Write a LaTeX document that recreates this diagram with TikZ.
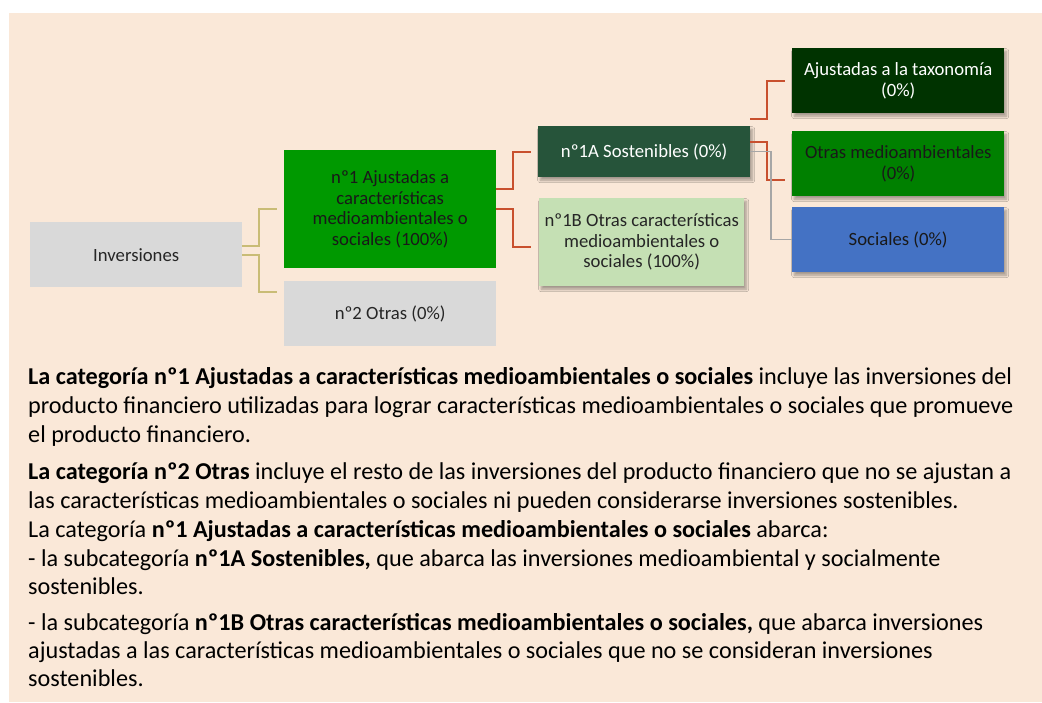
\documentclass[tikz,border=0pt]{standalone}
\usepackage{fontspec}
\setmainfont{Carlito}
\usetikzlibrary{shadows.blur}
\definecolor{bgc}{HTML}{FAE8D8}
\definecolor{grayb}{HTML}{D9D9D9}
\definecolor{greenA}{HTML}{009900}
\definecolor{darkA}{HTML}{26543A}
\definecolor{lightB}{HTML}{C5E0B4}
\definecolor{taxc}{HTML}{003300}
\definecolor{otrc}{HTML}{008000}
\definecolor{socc}{HTML}{4472C4}
\definecolor{tanl}{HTML}{C9BC76}
\definecolor{redl}{HTML}{C8502E}
\definecolor{grayl}{HTML}{A6A6A6}
\begin{document}
\begin{tikzpicture}[x=1pt,y=-1pt,
  box/.style={draw=none, anchor=north west, inner sep=0pt, align=center,
    font=\fontsize{18.7}{20.5}\selectfont},
  shd/.style={blur shadow={shadow xshift=2pt, shadow yshift=-3pt, shadow blur radius=2.5pt, shadow blur steps=6, shadow opacity=35}},
  tanline/.style={draw=tanl, line width=2pt},
  redline/.style={draw=redl, line width=2pt},
  grayline/.style={draw=grayl, line width=1.5pt},
  para/.style={anchor=base west, inner sep=0pt, font=\fontsize{24.2}{29}\selectfont}]
\fill[white] (0,0) rectangle (1042,702);
\fill[bgc] (9,13) rectangle (1042,702);
\useasboundingbox (0,0) rectangle (1042,702);

\node[box, fill=grayb, minimum width=212pt, minimum height=65pt, text=black!85] (inv) at (30,222) {Inversiones};
\node[box, fill=greenA, minimum width=212pt, minimum height=118pt, text=black!90] (n1) at (284,150) {nº1 Ajustadas a\\características\\medioambientales o\\sociales (100\%)};
\node[box, fill=grayb, minimum width=212pt, minimum height=65pt, text=black!85] (n2) at (284,281) {nº2 Otras (0\%)};
\node[box, shd, fill=darkA, minimum width=212pt, minimum height=51pt, text=white] (nA) at (538,126) {nº1A Sostenibles (0\%)};
\node[box, shd, fill=lightB, minimum width=205pt, minimum height=88pt, text=black!85] (nB) at (539,198) {nº1B Otras características\\medioambientales o\\sociales (100\%)};
\node[box, shd, fill=taxc, minimum width=212pt, minimum height=65pt, text=white] (tax) at (792,48) {Ajustadas a la taxonomía\\(0\%)};
\node[box, shd, fill=otrc, minimum width=212pt, minimum height=65pt, text=black!90] (otr) at (792,131) {Otras medioambientales\\(0\%)};
\node[box, shd, fill=socc, minimum width=212pt, minimum height=65pt, text=black!90] (soc) at (792,207) {Sociales (0\%)};

\draw[tanline] ([yshift=8.5pt]inv.east) -- ++(17,0) |- ([xshift=-7pt]n1.west);
\draw[tanline] (inv.east) -- ++(17,0) |- ([xshift=-7pt,yshift=21.5pt]n2.west);
\draw[redline] ([yshift=20pt]n1.east) -- ++(17,0) |- ([xshift=-7pt]nA.west);
\draw[redline] (n1.east) -- ++(17,0) |- ([xshift=-8pt,yshift=-4.7pt]nB.west);
\draw[redline] ([yshift=32.8pt]nA.east) -- ++(17,0) |- ([xshift=-7pt]tax.west);
\draw[redline] ([yshift=9.8pt]nA.east) -- ++(17,0) |- ([xshift=-7pt,yshift=-16.5pt]otr.west);
\draw[grayline] (nA.east) -- ++(20.7,0) |- (soc.west);

\node[para] (l1) at (28,384) {\textbf{La categoría nº1 Ajustadas a características medioambientales o sociales} incluye las inversiones del};
\node[para] (l2) at (28,413) {producto financiero utilizadas para lograr características medioambientales o sociales que promueve};
\node[para] (l3) at (28,442) {el producto financiero.};
\node[para] (l4) at (28,479) {\textbf{La categoría nº2 Otras} incluye el resto de las inversiones del producto financiero que no se ajustan a};
\node[para] (l5) at (28,508) {las características medioambientales o sociales ni pueden considerarse inversiones sostenibles.};
\node[para] (l6) at (28,537) {La categoría \textbf{nº1 Ajustadas a características medioambientales o sociales} abarca:};
\node[para] (l7) at (28,566) {- la subcategoría \textbf{nº1A Sostenibles,} que abarca las inversiones medioambiental y socialmente};
\node[para] (l8) at (28,594) {sostenibles.};
\node[para] (l9) at (28,630) {- la subcategoría \textbf{nº1B Otras características medioambientales o sociales,} que abarca inversiones};
\node[para] (l10) at (28,658) {ajustadas a las características medioambientales o sociales que no se consideran inversiones};
\node[para] (l11) at (28,686) {sostenibles.};
\end{tikzpicture}
\end{document}
